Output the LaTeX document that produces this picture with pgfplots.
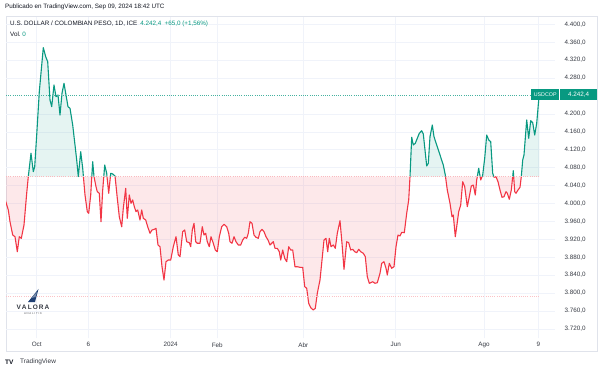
\documentclass[border=0pt]{standalone}
\usepackage{fontspec}
\setmainfont{Liberation Sans}
\usepackage{pgfplots}
\pgfplotsset{compat=1.18}
\usepackage{pgfplotstable}
\definecolor{tvgreen}{HTML}{089981}
\definecolor{tvred}{HTML}{F23645}
\definecolor{tvtext}{HTML}{131722}
\definecolor{gridc}{HTML}{F0F3FA}
\definecolor{framec}{HTML}{E0E3EB}
\definecolor{logoblue}{HTML}{1F3F73}

% segments of the close above the 4060 base level
\pgfplotstableread{
x y
28.3 4060
31 4112.1
33.3 4071
34.7 4082.2
36.7 4152.9
39.3 4249.6
43.3 4347.8
45.7 4327.7
47.7 4316.5
50 4231
51.7 4216.1
54 4264.5
56 4238.4
58 4242.2
60 4197.5
62 4246
64 4268.3
66 4242.2
68 4216.1
70 4212.5
72.7 4175.2
75 4130.6
76.7 4097.1
78.3 4060
80.7 4115.6
82.7 4078.6
83.4 4060
nan nan
91.8 4060
92.7 4093.3
94 4060
nan nan
103.8 4060
104.7 4085.9
106.7 4067.4
107.0 4060
nan nan
110.4 4060
110.7 4067.4
112.7 4065.9
115 4061.4
115.1 4060
nan nan
410 4060
411.7 4147.8
413.3 4130.6
415.3 4134.4
417.3 4145.5
419.3 4156.7
421.7 4162.5
423.3 4155.1
425 4119.4
426.7 4083.7
428.3 4089.7
430 4149.1
432.3 4175.2
434 4149.1
436.7 4130.6
440 4108.3
443.3 4085.9
445.3 4063.6
445.5 4060
nan nan
477.3 4060
478.7 4078.6
480.1 4060
nan nan
482.1 4060
482.7 4063.6
484.7 4100.9
486.7 4152.9
488.7 4141.8
490.7 4138
492.7 4067.4
493.8 4060
nan nan
512.7 4060
513.3 4073.2
513.7 4060
}\greenseg

\pgfplotstableread{
x y
521.3 4060
522.7 4097.1
524 4108.3
526.7 4186.4
528.7 4145.5
530.7 4184.8
532.7 4180.4
534.7 4152.9
536.7 4179
538.7 4231
539.3 4242.4
}\greenlast

% segments below the base level
\pgfplotstableread{
x y
5 4060
5 4010
8.3 3985.5
10 3959.4
12.7 3929.7
15 3925.9
17.3 3892.4
19.3 3925.9
21.3 3922.3
24 3952
26.7 4022.8
28.3 4060
nan nan
83.4 4060
85 4019
87.3 3981.7
88.7 3978.1
90.7 4019
91.8 4060
nan nan
94 4060
96 4037.5
97.3 4026.4
99.3 4022.8
101 3959.4
102.7 4030.1
103.8 4060
nan nan
107.0 4060
108.7 4022.8
110.4 4060
nan nan
115.1 4060
117.3 4011.6
119.3 3970.5
121.7 3948.2
123.3 3989.3
125.7 4033.9
127.3 3967
129.3 4019
131 4000.4
132.7 4007.8
134.3 3992.9
136 3981.7
137.7 3985.5
140 3963.2
141.7 3985.5
143.3 3967
145.7 3963.2
147.7 3948.2
150 3933.5
152 3940.9
154.3 3942.4
156 3944.6
158 3907.4
160 3903.6
162 3858.9
164 3829.3
166 3870.1
168.3 3873.9
170.7 3873.9
173.3 3903.6
176 3925.9
178.3 3885.1
180 3881.3
182.7 3937.1
184.7 3940.9
186.7 3914.7
189.3 3912.5
190.7 3903.6
192.3 3940.9
194 3955.8
195.7 3914.7
197.3 3911.2
200 3911.2
202.3 3948.2
204 3929.7
205.7 3933.5
207.3 3914.7
209.3 3903.6
211 3925.9
213.3 3911.2
215.3 3896.2
217.3 3892.4
219.3 3925.9
221.7 3948.2
224 3953.6
226.7 3948.2
228.7 3933.5
230 3914.7
232 3911.2
234 3925.9
236 3914.7
238.3 3907.4
240.7 3907.4
242.7 3918.5
244.7 3924.6
246.7 3922.3
248.3 3933.5
250 3959.4
252 3955.8
254 3929.7
256 3924.6
258.3 3922.3
260 3937.1
262 3942.4
264 3937.1
266 3925.9
268 3918.5
270 3907.4
271.7 3911.2
273.3 3914.7
275 3900
277.3 3900
279.3 3892.4
280.7 3873.9
282.7 3896.2
284.7 3877.7
286.7 3870.1
288.7 3903.6
290.7 3896.2
292.7 3896.2
295 3858.9
297.3 3858.9
300 3857.6
302.7 3857.6
304.7 3814.3
306.7 3810.7
308.7 3777.2
310.7 3767.4
313.3 3762.3
315.3 3766.1
317.3 3799.6
320 3829.3
322 3873.9
324 3918.5
326 3922.3
327.7 3892.4
329.3 3922.3
331 3903.6
333.3 3907.4
335.3 3900
337.3 3933.5
340 3961.6
342 3911.2
344 3853.1
346.7 3914.7
348.7 3912.5
350.7 3896.2
352.7 3897.8
354.7 3892.4
356.7 3890.2
358.7 3897.8
360.7 3892.4
363.3 3888.9
365.3 3881.3
367.3 3836.6
369.3 3821.9
370.7 3823.2
372.7 3825.4
375 3821.9
377.3 3823.2
380 3844.2
381.7 3866.5
384 3870.1
386 3855.4
387.3 3840.4
389.3 3866.5
391.7 3855.4
394 3859
396 3903.6
398 3929.7
400 3927.5
401.7 3935.7
404.3 3934.8
406.7 3978.1
408.7 4007.8
410 4060
nan nan
445.5 4060
447.3 4030.1
450 4000.4
452 3970.5
453.3 3974.3
455.3 3925.9
456.7 3948.2
458.7 3981.7
460.7 3996.7
462.7 4048.7
464.7 4037.5
467.3 3992.9
469.3 4015.2
471.3 4039.1
473.3 4041.3
475.3 4019
476.7 4052.5
477.3 4060
nan nan
480.1 4060
480.7 4052.5
482.1 4060
nan nan
493.8 4060
494 4058.5
496 4059.8
498 4048.7
500 4030.1
502 4013.8
504 4015.2
506 4026.4
507.3 4022.8
509.3 4009.4
511.3 4030.1
512.7 4060
nan nan
513.7 4060
514.7 4026.4
516 4022.8
518 4030.1
520 4036.2
521.3 4060
}\redseg

\begin{document}
\begin{tikzpicture}
\fill[white] (0pt,0pt) rectangle (600pt,-374pt);
\draw[framec, line width=0.6pt] (6pt,-16.5pt) rectangle (597pt,-351pt);
\begin{axis}[
  at={(6pt,-338pt)}, anchor=south west,
  scale only axis, width=549pt, height=321.5pt,
  xmin=6, xmax=555, ymin=3699.8, ymax=4417.4,
  axis line style={draw=none},
  unbounded coords=jump,
  xtick={36.7,88.3,170.7,217.3,303.3,395.7,484,538.3},
  xticklabels={Oct,6,2024,Feb,Abr,Jun,Ago,9},
  ytick={3720,3760,3800,3840,3880,3920,3960,4000,4040,4080,4120,4160,4200,4280,4320,4360,4400},
  yticklabel pos=right,
  grid=major, grid style={gridc, line width=0.6pt},
  major tick length=0pt,
  tick label style={font=\fontsize{6.3}{7}\selectfont, text=tvtext!85},
  yticklabel style={anchor=west, xshift=6pt,
    /pgf/number format/fixed, /pgf/number format/fixed zerofill,
    /pgf/number format/precision=1, /pgf/number format/1000 sep={.},
    /pgf/number format/dec sep={,}, /pgf/number format/assume math mode=true},
  xticklabel style={yshift=-1pt},
]
% fills between the close and the base level
\addplot[fill=tvgreen, fill opacity=0.10, draw=none] table[x=x,y=y] {\greenseg};
\addplot[fill=tvgreen, fill opacity=0.10, draw=none] coordinates {(521.3,4060) (522.7,4097.1) (524,4108.3) (526.7,4186.4) (528.7,4145.5) (530.7,4184.8) (532.7,4180.4) (534.7,4152.9) (536.7,4179) (538.7,4231) (539.3,4242.4) (539.3,4060)};
\addplot[fill=tvred, fill opacity=0.11, draw=none] table[x=x,y=y] {\redseg};
% lines
\addplot[tvred, line width=1.1pt, line join=round] table[x=x,y=y] {\redseg};
\addplot[tvgreen, line width=1.1pt, line join=round] table[x=x,y=y] {\greenseg};
\addplot[tvgreen, line width=1.1pt, line join=round] table[x=x,y=y] {\greenlast};
% level lines
\addplot[tvred!35, line width=0.6pt, dash pattern=on 0.8pt off 1.4pt] coordinates {(6,4060) (539.3,4060)};
\addplot[tvred!30, line width=0.6pt, dash pattern=on 0.8pt off 1.4pt] coordinates {(6,3792) (539.3,3792)};
\addplot[tvgreen!75, line width=0.6pt, dash pattern=on 0.8pt off 1.4pt] coordinates {(6,4242.4) (555,4242.4)};
\end{axis}
% price label
\node[fill=tvgreen, text=white, font=\fontsize{5.3}{6}\selectfont, inner sep=0pt, minimum height=11pt, minimum width=28pt, anchor=west] at (531pt,-94.9pt) {USDCOP};
\node[fill=tvgreen, text=white, font=\fontsize{6.3}{7}\selectfont, inner sep=0pt, minimum height=11pt, minimum width=37pt, anchor=west] at (560pt,-94.9pt) {4.242,4};
% header and legend
\node[anchor=west, inner sep=0pt, font=\fontsize{6.3}{7}\selectfont, text=tvtext] at (5pt,-7pt) {Publicado en TradingView.com, Sep 09, 2024 18:42 UTC};
\node[anchor=west, inner sep=0pt, font=\fontsize{6.3}{7}\selectfont, text=tvtext] at (10pt,-24pt) {U.S. DOLLAR / COLOMBIAN PESO, 1D, ICE\enspace\textcolor{tvgreen}{4.242,4\enspace +65,0 (+1,56\%)}};
\node[anchor=west, inner sep=0pt, font=\fontsize{6.3}{7}\selectfont, text=tvtext] at (10pt,-34pt) {Vol.\ \textcolor{tvgreen}{0}};
% watermark logo
\fill[logoblue] (28pt,-302pt) -- (38.5pt,-289pt) -- (35pt,-302pt) -- cycle;
\fill[logoblue!60] (31pt,-298pt) -- (37pt,-292pt) -- (35.5pt,-297pt) -- cycle;
\node[font=\fontsize{6.5}{7}\selectfont\bfseries, text=tvtext!85] at (33pt,-307pt) {V\,A\,L\,O\,R\,A};
\node[font=\fontsize{2.8}{3}\selectfont, text=tvtext!70] at (33pt,-313.5pt) {A N A L I T I K};
% footer
\node[anchor=west, inner sep=0pt, font=\fontsize{6.5}{7}\selectfont\bfseries, text=tvtext] at (5pt,-362pt) {TV};
\node[anchor=west, inner sep=0pt, font=\fontsize{6.5}{7}\selectfont, text=tvtext!85] at (20pt,-362pt) {TradingView};
\pgfresetboundingbox
\useasboundingbox (0pt,0pt) rectangle (600pt,-374pt);
\end{tikzpicture}
\end{document}
